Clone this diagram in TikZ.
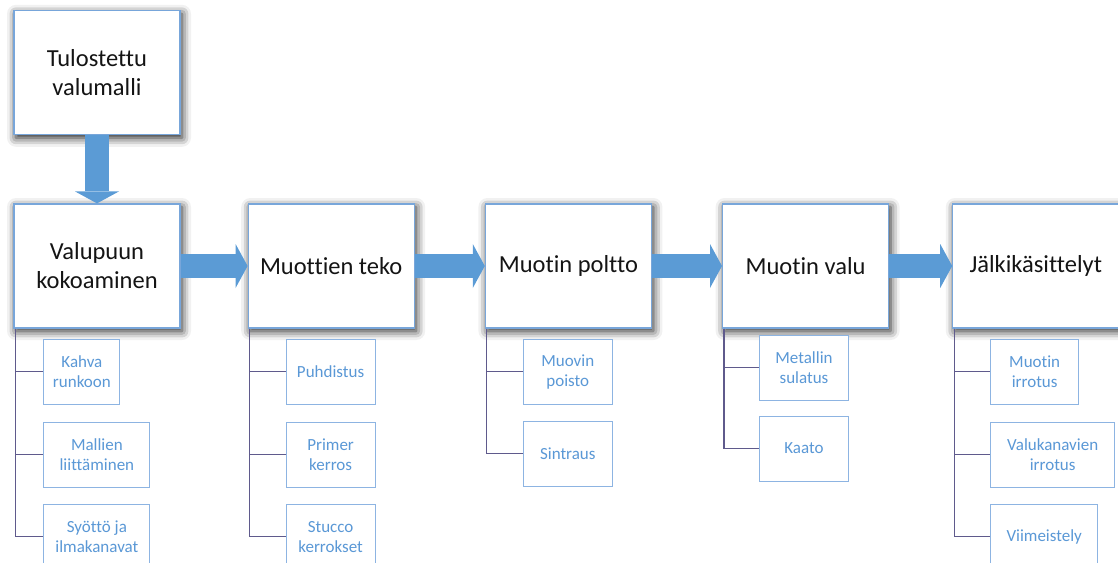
\documentclass[tikz,border=0pt]{standalone}
\usepackage{fontspec}
\setmainfont{Carlito}[Ligatures=NoCommon]
\usepackage{xcolor}
\usepackage{tikz}
\usetikzlibrary{positioning, arrows.meta, shadows.blur}
\definecolor{arrowblue}{RGB}{91, 155, 213}
\definecolor{boxline}{RGB}{120, 166, 218}
\definecolor{subline}{RGB}{141, 180, 226}
\definecolor{subtext}{RGB}{90, 152, 214}
\definecolor{treeline}{RGB}{95, 90, 140}

\begin{document}
\begin{tikzpicture}[
    x=1pt, y=-1pt,
    mainbox/.style={draw=boxline, line width=1.2pt, fill=white, minimum width=166pt, minimum height=124pt, inner sep=0pt, align=center, text=black!92, font=\fontsize{24.5}{29}\selectfont,
        blur shadow={shadow xshift=2pt, shadow yshift=-3pt, shadow blur radius=9pt, shadow opacity=90}},
    subbox/.style={draw=subline, line width=1pt, fill=white, minimum height=65pt, inner sep=0pt, align=center, text=subtext, font=\fontsize{17}{20}\selectfont},
    flow/.style={arrowblue, line width=24pt, -{Triangle[length=12pt, width=44pt, line width=0pt 0]}},
    tree/.style={treeline, line width=1.3pt}
]
\useasboundingbox (0,0) rectangle (1118,562);
\clip (0,0) rectangle (1118,562);

% vaiheet
\node[mainbox] (valupuu) at (97,266) {Valupuun\\kokoaminen};
\node[mainbox, above=68pt of valupuu] (tulo) {Tulostettu\\valumalli};
\node[mainbox, right=67pt of valupuu] (muotit) {Muottien teko};
\node[mainbox, right=70pt of muotit] (poltto) {Muotin poltto};
\node[mainbox, right=70pt of poltto] (valu) {Muotin valu};
\node[mainbox, right=63pt of valu] (jalki) {Jälkikäsittelyt};

\draw[flow] (tulo) -- (valupuu);
\draw[flow] (valupuu) -- (muotit);
\draw[flow] (muotit) -- (poltto);
\draw[flow] (poltto) -- (valu);
\draw[flow] (valu) -- (jalki);

% alavaiheet
\node[subbox, minimum width=76pt, below right=10pt and 30pt of valupuu.south west] (kahva) {Kahva\\runkoon};
\node[subbox, minimum width=106pt, below right=17pt and 0pt of kahva.south west] (mallit) {Mallien\\liittäminen};
\node[subbox, minimum width=106pt, below right=16pt and 0pt of mallit.south west] (syotto) {Syöttö ja\\ilmakanavat};

\node[subbox, minimum width=89pt, below right=10pt and 38pt of muotit.south west] (puhdistus) {Puhdistus};
\node[subbox, minimum width=89pt, below right=17pt and 0pt of puhdistus.south west] (primer) {Primer\\kerros};
\node[subbox, minimum width=89pt, below right=16pt and 0pt of primer.south west] (stucco) {Stucco\\kerrokset};

\node[subbox, minimum width=89pt, below right=10pt and 38pt of poltto.south west] (muovi) {Muovin\\poisto};
\node[subbox, minimum width=89pt, below right=16pt and 0pt of muovi.south west] (sintraus) {Sintraus};

\node[subbox, minimum width=89pt, below right=6pt and 37pt of valu.south west] (sulatus) {Metallin\\sulatus};
\node[subbox, minimum width=89pt, below right=15pt and 0pt of sulatus.south west] (kaato) {Kaato};

\node[subbox, minimum width=88pt, below right=10pt and 38pt of jalki.south west] (irrotus) {Muotin\\irrotus};
\node[subbox, minimum width=124pt, below right=17pt and 0pt of irrotus.south west] (kanavat) {Valukanavien\\irrotus};
\node[subbox, minimum width=107pt, below right=16pt and 0pt of kanavat.south west] (viimeistely) {Viimeistely};

\draw[tree] ([xshift=2pt]valupuu.south west) |- (kahva.west);
\draw[tree] ([xshift=2pt]valupuu.south west) |- (mallit.west);
\draw[tree] ([xshift=2pt]valupuu.south west) |- (syotto.west);
\draw[tree] ([xshift=2pt]muotit.south west) |- (puhdistus.west);
\draw[tree] ([xshift=2pt]muotit.south west) |- (primer.west);
\draw[tree] ([xshift=2pt]muotit.south west) |- (stucco.west);
\draw[tree] ([xshift=2pt]poltto.south west) |- (muovi.west);
\draw[tree] ([xshift=2pt]poltto.south west) |- (sintraus.west);
\draw[tree] ([xshift=2pt]valu.south west) |- (sulatus.west);
\draw[tree] ([xshift=2pt]valu.south west) |- (kaato.west);
\draw[tree] ([xshift=2pt]jalki.south west) |- (irrotus.west);
\draw[tree] ([xshift=2pt]jalki.south west) |- (kanavat.west);
\draw[tree] ([xshift=2pt]jalki.south west) |- (viimeistely.west);

\end{tikzpicture}
\end{document}
